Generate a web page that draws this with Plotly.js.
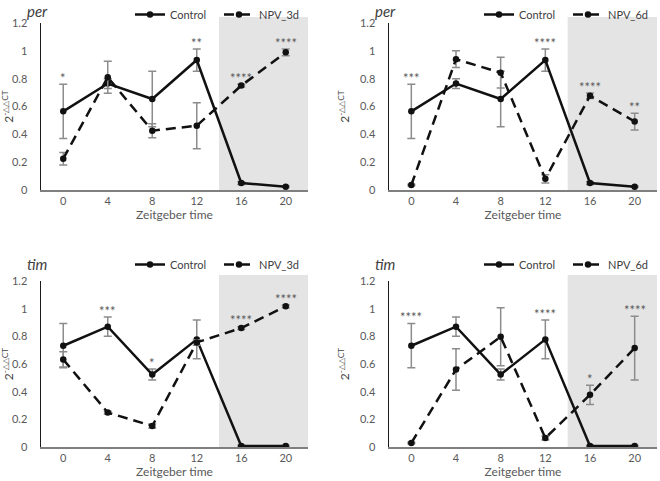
<!DOCTYPE html>
<html>
<head>
<meta charset="utf-8">
<script src="https://cdn.plot.ly/plotly-3.0.1.min.js"></script>
<style>html,body{margin:0;padding:0;background:#fff;}#chart{width:660px;height:481px;}</style>
</head>
<body>
<div id="chart"></div>
<script>
// ---- data ----
const zt = [0, 4, 8, 12, 16, 20];
const xTickLabels = ['0', '4', '8', '12', '16', '20'];

const perControl    = [0.565, 0.765, 0.654, 0.934, 0.050, 0.024];
const perControlErr = [0.195, 0.035, 0.200, 0.080, 0.010, 0.005];
const perNPV3d      = [0.225, 0.810, 0.426, 0.462, 0.750, 0.989];
const perNPV3dErr   = [0.045, 0.115, 0.050, 0.165, 0.010, 0.025];
const perNPV6d      = [0.036, 0.940, 0.843, 0.080, 0.677, 0.492];
const perNPV6dErr   = [0.005, 0.060, 0.110, 0.030, 0.020, 0.060];

const timControl    = [0.732, 0.870, 0.524, 0.778, 0.007, 0.007];
const timControlErr = [0.160, 0.070, 0.040, 0.140, 0.005, 0.003];
const timNPV3d      = [0.633, 0.249, 0.152, 0.756, 0.860, 1.017];
const timNPV3dErr   = [0.055, 0.010, 0.015, 0.020, 0.010, 0.010];
const timNPV6d      = [0.029, 0.560, 0.797, 0.065, 0.377, 0.715];
const timNPV6dErr   = [0.005, 0.150, 0.210, 0.015, 0.070, 0.230];

const perSig3d = ['*', '', '', '**', '****', '****'];
const perSig6d = ['***', '', '', '****', '****', '**'];
const timSig3d = ['', '***', '*', '', '****', '****'];
const timSig6d = ['****', '', '', '****', '*', '****'];

const panels = [
  {gene: 'per', ctrl: perControl, ctrlErr: perControlErr, npv: perNPV3d, npvErr: perNPV3dErr, npvName: 'NPV_3d', sig: perSig3d},
  {gene: 'per', ctrl: perControl, ctrlErr: perControlErr, npv: perNPV6d, npvErr: perNPV6dErr, npvName: 'NPV_6d', sig: perSig6d},
  {gene: 'tim', ctrl: timControl, ctrlErr: timControlErr, npv: timNPV3d, npvErr: timNPV3dErr, npvName: 'NPV_3d', sig: timSig3d},
  {gene: 'tim', ctrl: timControl, ctrlErr: timControlErr, npv: timNPV6d, npvErr: timNPV6dErr, npvName: 'NPV_6d', sig: timSig6d}
];

// ---- layout geometry (pixels) ----
const W = 660, H = 481;
const boxes = [
  {l: 41, r: 308, t: 23, b: 190},
  {l: 389, r: 657, t: 23, b: 190},
  {l: 41, r: 308, t: 281, b: 447},
  {l: 389, r: 657, t: 281, b: 447}
];
const xRange = [-2, 22];
const darkStart = 14;
const font = 'Lato, "Liberation Sans", sans-serif';
const errColor = '#8c8c8c';

const traces = [];
const layout = {
  width: W, height: H,
  margin: {l: 0, r: 0, t: 0, b: 0},
  paper_bgcolor: '#fff', plot_bgcolor: 'rgba(0,0,0,0)',
  font: {family: font, size: 11, color: '#595959'},
  showlegend: true,
  shapes: [], annotations: []
};

panels.forEach((p, i) => {
  const n = i + 1;
  const xa = 'x' + (n === 1 ? '' : n), ya = 'y' + (n === 1 ? '' : n);
  const xk = 'xaxis' + (n === 1 ? '' : n), yk = 'yaxis' + (n === 1 ? '' : n);
  const lg = 'legend' + (n === 1 ? '' : n);
  const bx = boxes[i];
  const xd = [bx.l / W, bx.r / W];
  const yd = [1 - bx.b / H, 1 - bx.t / H];

  layout[xk] = {
    domain: xd, range: xRange, anchor: ya, automargin: false,
    tickmode: 'array', tickvals: zt, ticktext: xTickLabels,
    ticks: '', showgrid: false, zeroline: false,
    showline: true, linecolor: '#7f7f7f', linewidth: 2,
    tickfont: {size: 11, color: '#595959'},
    title: {text: 'Zeitgeber time', font: {size: 12, color: '#595959'}, standoff: 0}
  };
  layout[yk] = {
    domain: yd, range: [0, 1.2], anchor: xa, automargin: false,
    tickmode: 'array', tickvals: [0, 0.2, 0.4, 0.6, 0.8, 1, 1.2],
    ticktext: ['0', '0.2', '0.4', '0.6', '0.8', '1', '1.2'],
    ticks: '', ticklabelstandoff: 10, showgrid: false, zeroline: false,
    showline: true, linecolor: '#1a1a1a', linewidth: 1.5,
    tickfont: {size: 11, color: '#595959'},
    title: {text: '2<sup>-△△CT</sup>', font: {size: 12, color: '#404040'}, standoff: 7}
  };

  // dark-phase shading
  const toPaperX = v => xd[0] + (v - xRange[0]) / (xRange[1] - xRange[0]) * (xd[1] - xd[0]);
  layout.shapes.push({
    type: 'rect', xref: 'paper', yref: 'paper', layer: 'below',
    x0: toPaperX(darkStart), x1: xd[1], y0: yd[0], y1: yd[1] + 6 / H,
    fillcolor: '#e4e4e4', line: {width: 0}
  });

  traces.push({
    x: zt, y: p.ctrl, xaxis: xa, yaxis: ya, legend: lg, name: 'Control',
    type: 'scatter', mode: 'lines+markers',
    line: {color: '#111', width: 2.5},
    marker: {color: '#111', size: 6.5, symbol: 'circle'},
    error_y: {type: 'data', array: p.ctrlErr, visible: true, color: errColor, thickness: 1.5, width: 4}
  });
  traces.push({
    x: zt, y: p.npv, xaxis: xa, yaxis: ya, legend: lg, name: p.npvName,
    type: 'scatter', mode: 'lines+markers',
    line: {color: '#111', width: 2.5, dash: '10px,6px'},
    marker: {color: '#111', size: 6.5, symbol: 'circle'},
    error_y: {type: 'data', array: p.npvErr, visible: true, color: errColor, thickness: 1.5, width: 4}
  });

  const legTop = Math.max(0, bx.t - 31);
  layout[lg] = {
    orientation: 'h', x: xd[1], xanchor: 'right', y: 1 - legTop / H, yanchor: 'top',
    bgcolor: 'rgba(0,0,0,0)', font: {size: 11, color: '#404040', family: font},
    itemwidth: 30, entrywidth: 44, tracegroupgap: 0
  };

  // gene title
  const titleTop = Math.max(0, bx.t - 28);
  layout.annotations.push({
    xref: 'paper', yref: 'paper', x: (bx.l - 16) / W, y: 1 - titleTop / H,
    xanchor: 'left', yanchor: 'top', showarrow: false,
    text: '<i>' + p.gene + '</i>', font: {size: 15, color: '#404040', family: font}
  });

  // significance stars
  p.sig.forEach((s, k) => {
    if (!s) return;
    const top = Math.max(p.ctrl[k] + p.ctrlErr[k], p.npv[k] + p.npvErr[k]);
    layout.annotations.push({
      xref: xa, yref: ya, x: zt[k], y: top + 0.045, yanchor: 'middle',
      showarrow: false, text: s, font: {size: 13, color: '#595959', family: font}
    });
  });
});

Plotly.newPlot('chart', traces, layout, {displayModeBar: false, staticPlot: true});
</script>
</body>
</html>
